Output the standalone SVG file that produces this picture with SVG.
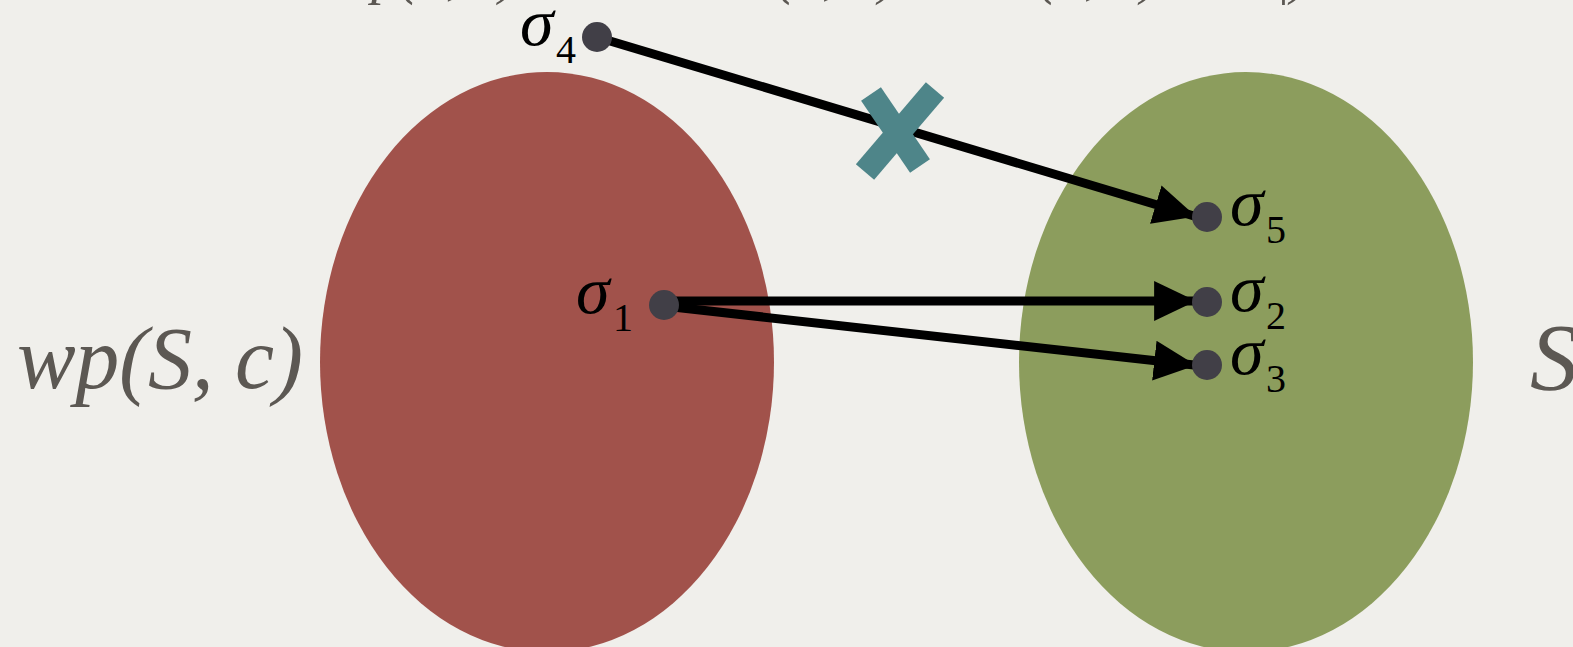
<svg xmlns="http://www.w3.org/2000/svg" width="1573" height="647" viewBox="0 0 1573 647">
<style>
.math{font-family:"Liberation Serif","Times New Roman",serif;font-style:italic;fill:#5c5853}
.sig{font-family:"Liberation Serif","Times New Roman",serif;font-style:italic;fill:#000;font-size:68px}
.sub{font-family:"Liberation Serif","Times New Roman",serif;fill:#000;font-size:40px}
.dot{fill:#413f47}
.arr{stroke:#000;stroke-width:9;fill:none;marker-end:url(#ah)}
</style>
<defs>
<marker id="ah" markerUnits="userSpaceOnUse" markerWidth="42" markerHeight="42" viewBox="0 0 40 38" refX="38" refY="19" orient="auto">
<path d="M0,0 L40,19 L0,38 Z" fill="#000"/>
</marker>
</defs>
<rect width="1573" height="647" fill="#f0efeb"/>
<text class="math" x="334" y="-7" font-size="56">wp(S, c)</text>
<text class="math" x="776" y="-7" font-size="56">(σ, S)</text>
<text class="math" x="1038" y="-7" font-size="56">(σ, S) ⊨ c |)</text>
<g id="pre">
<ellipse cx="547" cy="362" rx="227" ry="290" fill="#a1524b"/>
<text class="math" x="17" y="388" font-size="88" textLength="286">wp(S, c)</text>
</g>
<g id="post">
<ellipse cx="1246" cy="362" rx="227" ry="290" fill="#8c9d5d"/>
<text class="math" x="1530" y="390" font-size="96">S</text>
</g>
<g id="connectors">
<line class="arr" x1="600" y1="38" x2="1194" y2="216"/>
<line class="arr" x1="664" y1="301" x2="1194" y2="301"/>
<line class="arr" x1="664" y1="306" x2="1194" y2="365"/>
<g stroke="#4e8589" stroke-width="24" stroke-linecap="butt">
<line x1="871" y1="94" x2="920" y2="166"/>
<line x1="935" y1="90" x2="865" y2="172"/>
</g>
</g>
<g id="s4"><circle class="dot" cx="597" cy="37" r="15"/><text class="sig" x="520" y="45">σ</text><text class="sub" x="556" y="63">4</text></g>
<g id="s1"><circle class="dot" cx="664" cy="305" r="15"/><text class="sig" x="576" y="313">σ</text><text class="sub" x="613" y="331">1</text></g>
<g id="s5"><circle class="dot" cx="1207" cy="217" r="15"/><text class="sig" x="1230" y="225">σ</text><text class="sub" x="1266" y="243">5</text></g>
<g id="s2"><circle class="dot" cx="1207" cy="302" r="15"/><text class="sig" x="1230" y="311">σ</text><text class="sub" x="1266" y="329">2</text></g>
<g id="s3"><circle class="dot" cx="1207" cy="365" r="15"/><text class="sig" x="1230" y="374">σ</text><text class="sub" x="1266" y="392">3</text></g>
</svg>
